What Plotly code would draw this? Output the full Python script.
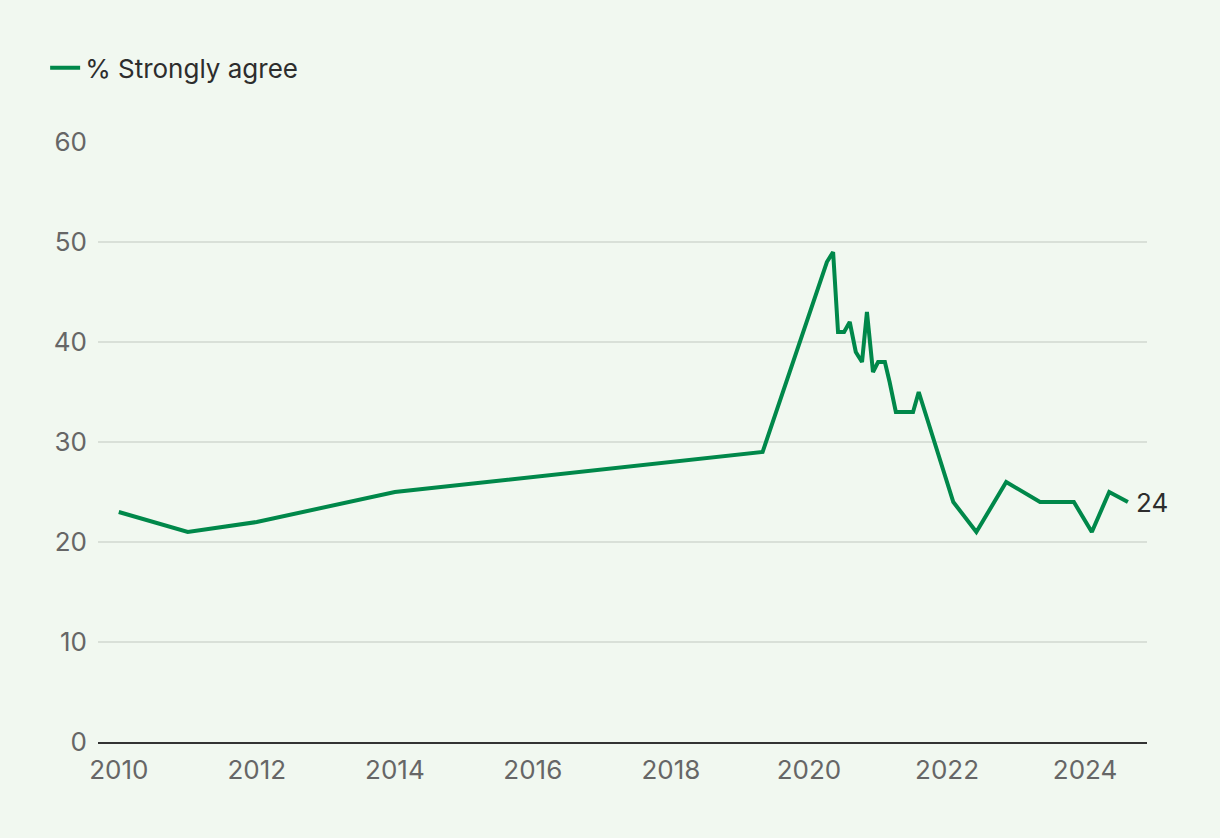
import plotly.graph_objects as go

dates = ["2010-01-01", "2011-01-01", "2012-01-01", "2014-01-01", "2019-05-01",
         "2020-03-01", "2020-04-05", "2020-05-08", "2020-06-03", "2020-07-05",
         "2020-08-04", "2020-09-05", "2020-10-08", "2020-11-03", "2020-12-05",
         "2021-01-01", "2021-02-06", "2021-03-03", "2021-04-05", "2021-07-05",
         "2021-08-04", "2022-02-03", "2022-06-05", "2022-11-10", "2023-05-08",
         "2023-11-03", "2024-02-06", "2024-05-08", "2024-08-15"]
strongly_agree = [23, 21, 22, 25, 29,
                  46, 48, 49, 41, 41,
                  42, 39, 38, 43, 37,
                  38, 38, 36, 33, 33,
                  35, 24, 21, 26, 24,
                  24, 21, 25, 24]
series_name = "% Strongly agree"
tick_years = ["2010", "2012", "2014", "2016", "2018", "2020", "2022", "2024"]
y_ticks = [0, 10, 20, 30, 40, 50, 60]

GREEN = "#00884a"
BG = "#f1f8f0"
FONT = "Inter, Roboto, sans-serif"
FS = 26

fig = go.Figure()
fig.add_trace(go.Scatter(
    x=dates, y=strongly_agree, mode="lines", name=series_name,
    line=dict(color=GREEN, width=4), showlegend=True,
))

fig.add_annotation(
    x=dates[-1], y=strongly_agree[-1], text=str(strongly_agree[-1]),
    showarrow=False, xanchor="left", yanchor="middle", xshift=6,
    font=dict(family=FONT, size=FS, color="#2d2d2d"),
)

fig.update_layout(
    width=1220, height=838,
    paper_bgcolor=BG, plot_bgcolor=BG,
    margin=dict(l=98, r=73, t=142, b=96),
    font=dict(family=FONT, size=FS, color="#666666"),
    showlegend=True,
    legend=dict(
        orientation="h", xref="container", yref="container",
        x=0.037, y=0.919, xanchor="left", yanchor="middle",
        font=dict(family=FONT, size=FS, color="#2d2d2d"),
        bgcolor="rgba(0,0,0,0)", itemwidth=30,
    ),
    xaxis=dict(
        type="date",
        range=["2009-09-13", "2024-11-24"],
        tickvals=[f"{y}-01-01" for y in tick_years],
        ticktext=tick_years,
        showgrid=False, zeroline=False,
        showline=True, linecolor="#333333", linewidth=2,
        ticks="", ticklabelstandoff=4,
        tickfont=dict(family=FONT, size=FS, color="#666666"),
    ),
    yaxis=dict(
        range=[0, 60], tickvals=y_ticks,
        showgrid=True, gridcolor="#d9e0d8", gridwidth=1.5,
        zeroline=False, showline=False, ticks="",
        ticklabelstandoff=10,
        tickfont=dict(family=FONT, size=FS, color="#666666"),
    ),
)

fig.write_html("out.html", config={"displayModeBar": False},
               post_script="document.body.style.margin='0';")
